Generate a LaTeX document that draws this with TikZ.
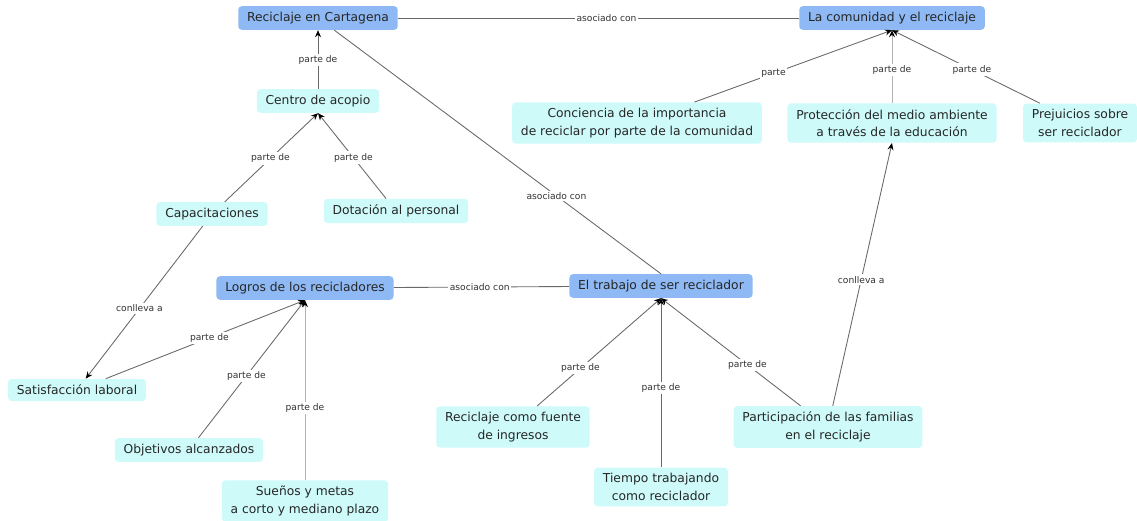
\documentclass[tikz,border=0pt]{standalone}
\usepackage{fontspec}
\setmainfont{DejaVu Sans}
\usetikzlibrary{arrows.meta}
\definecolor{azul}{RGB}{142,185,244}
\definecolor{celeste}{RGB}{206,250,250}
\definecolor{gristrazo}{RGB}{105,105,105}
\tikzstyle{tema}     = [rectangle, rounded corners=2pt, fill=azul, text=black!85, font=\fontsize{7}{10}\selectfont, inner xsep=5pt, minimum height=0.44cm, align=center]
\tikzstyle{concepto} = [tema, fill=celeste]
\tikzstyle{enlace}   = [fill=white, inner sep=1pt, font=\fontsize{5.2}{6}\selectfont, text=black!80]
\tikzstyle{linea}    = [draw=gristrazo, line width=0.5pt]
\tikzstyle{arrow}    = [linea, ->, >={Stealth[black,length=4pt,width=3.4pt]}]

\begin{document}
\begin{tikzpicture}[x=0.02cm, y=-0.02cm]
        \useasboundingbox (0,0) rectangle (1137,521);

        % conceptos
        \node[tema] (rcart) at (318,18) {Reciclaje en Cartagena};
        \node[tema] (comun) at (892,18) {La comunidad y el reciclaje};
        \node[concepto] (acopio) at (318,101) {Centro de acopio};
        \node[concepto] (concien) at (637,123) {Conciencia de la importancia\\de reciclar por parte de la comunidad};
        \node[concepto] (protec) at (892,123) {Protección del medio ambiente\\a través de la educación};
        \node[concepto] (prejui) at (1080,123) {Prejuicios sobre\\ser reciclador};
        \node[concepto] (capac) at (212,214) {Capacitaciones};
        \node[concepto] (dotac) at (396,211) {Dotación al personal};
        \node[tema] (logros) at (305,288) {Logros de los recicladores};
        \node[tema] (trabajo) at (661,286) {El trabajo de ser reciclador};
        \node[concepto] (satisf) at (77,390) {Satisfacción laboral};
        \node[concepto] (objet) at (189,450) {Objetivos alcanzados};
        \node[concepto] (suenos) at (305,501) {Sueños y metas\\a corto y mediano plazo};
        \node[concepto] (fuente) at (513,427) {Reciclaje como fuente\\de ingresos};
        \node[concepto] (tiempo) at (661,487) {Tiempo trabajando\\como reciclador};
        \node[concepto] (famil) at (828,427) {Participación de las familias\\en el reciclaje};

        % enlaces
        \draw[linea] (rcart) -- node[enlace, pos=0.52] {asociado con} (comun);
        \draw[arrow] (acopio) -- node[enlace, pos=0.49] {parte de} (rcart);
        \draw[linea] (rcart) -- node[enlace, pos=0.68] {asociado con} (trabajo.north);
        \draw[arrow] (capac) -- node[enlace, pos=0.49] {parte de} (acopio.south);
        \draw[arrow] (dotac) -- node[enlace, pos=0.48] {parte de} (acopio.south);
        \draw[arrow] (capac) -- node[enlace, pos=0.54] {conlleva a} (satisf);
        \draw[arrow] (satisf) -- node[enlace, pos=0.52] {parte de} (logros.south);
        \draw[arrow] (objet) -- node[enlace, pos=0.45] {parte de} (logros.south);
        \draw[arrow, draw=black!30] (suenos) -- node[enlace, pos=0.40] {parte de} (logros.south);
        \draw[linea] (logros) -- node[enlace, pos=0.49] {asociado con} (trabajo);
        \draw[arrow] (fuente) -- node[enlace, pos=0.35] {parte de} (trabajo.south);
        \draw[arrow] (tiempo) -- node[enlace, pos=0.47] {parte de} (trabajo.south);
        \draw[arrow] (famil) -- node[enlace, pos=0.38] {parte de} (trabajo.south);
        \draw[arrow] (famil) -- node[enlace, pos=0.48] {conlleva a} (protec.south);
        \draw[arrow] (concien) -- node[enlace, pos=0.40] {parte} (comun.south);
        \draw[arrow, draw=black!30] (protec) -- node[enlace, pos=0.45] {parte de} (comun.south);
        \draw[arrow] (prejui) -- node[enlace, pos=0.46] {parte de} (comun.south);
\end{tikzpicture}
\end{document}
